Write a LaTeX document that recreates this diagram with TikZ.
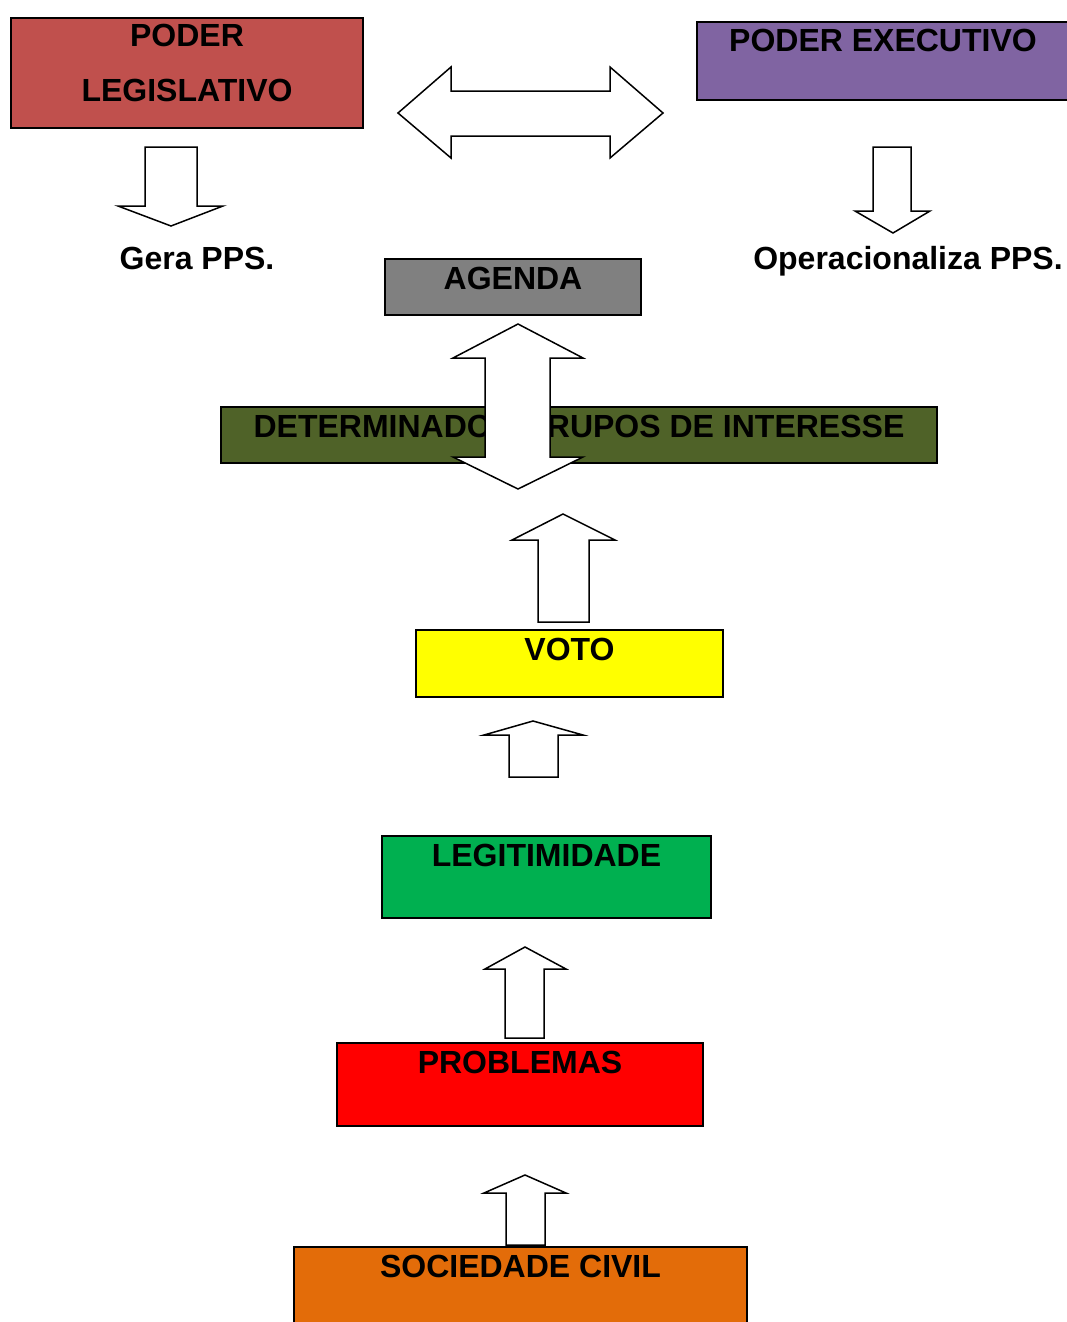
\documentclass[tikz,border=0pt]{standalone}
\usepackage{fontspec}
\setmainfont{Liberation Sans}
\usetikzlibrary{positioning}

\definecolor{legis}{HTML}{C0504D}
\definecolor{exec}{HTML}{8064A2}
\definecolor{agenda}{HTML}{808080}
\definecolor{grupos}{HTML}{4F6228}
\definecolor{voto}{HTML}{FFFF00}
\definecolor{legit}{HTML}{00B050}
\definecolor{probl}{HTML}{FF0000}
\definecolor{socied}{HTML}{E36C09}

\tikzset{
  caixa/.style={draw, line width=2pt, inner sep=0pt, anchor=north west},
  rotulo/.style={font=\bfseries\fontsize{32}{38}\selectfont, inner sep=0pt, anchor=base},
  seta/.style={draw, fill=white, line width=1.5pt, line join=miter}
}

\begin{document}
\begin{tikzpicture}[x=1pt, y=-1pt]
\useasboundingbox (0,0) rectangle (1066,1322);
% Poderes
\node[caixa, fill=legis, minimum width=352pt, minimum height=110pt] (legis) at (10,17) {};
\node[rotulo] (legis1) at ([yshift=-30pt]legis.north) {PODER};
\node[rotulo] (legis2) at ([yshift=-84pt]legis.north) {LEGISLATIVO};
\node[caixa, fill=exec, minimum width=372pt, minimum height=78pt] (exec) at (696,21) {};
\node[rotulo] (exec1) at ([yshift=-31pt]exec.north) {PODER EXECUTIVO};
% Seta dupla entre os poderes
\draw[seta] (398,113) -- (451,67) -- (451,91) -- (610,91) -- (610,67) -- (663,113)
  -- (610,158) -- (610,136) -- (451,136) -- (451,158) -- cycle;
% Gera / Operacionaliza
\draw[seta] (145,147) -- (197,147) -- (197,206) -- (223,206) -- (171,226)
  -- (118,206) -- (145,206) -- cycle;
\node[rotulo] (gera) at (197,269) {Gera PPS.};
\draw[seta] (873,147) -- (911,147) -- (911,211) -- (930,211) -- (893,233)
  -- (855,211) -- (873,211) -- cycle;
\node[rotulo] (operac) at (908,269) {Operacionaliza PPS.};
% Agenda e grupos de interesse
\node[caixa, fill=agenda, minimum width=256pt, minimum height=56pt] (agenda) at (384,258) {};
\node[rotulo] (agenda1) at ([yshift=-31pt]agenda.north) {AGENDA};
\node[caixa, fill=grupos, minimum width=716pt, minimum height=56pt] (grupos) at (220,406) {};
\node[rotulo] (grupos1) at ([yshift=-31pt]grupos.north) {DETERMINADOS GRUPOS DE INTERESSE};
\draw[seta] (518,324) -- (583,358) -- (550,358) -- (550,457) -- (583,457) -- (518,489)
  -- (453,457) -- (485,457) -- (485,358) -- (453,358) -- cycle;
% Voto
\draw[seta] (563,514) -- (615,540) -- (589,540) -- (589,622) -- (538,622) -- (538,540)
  -- (512,540) -- cycle;
\node[caixa, fill=voto, minimum width=307pt, minimum height=67pt] (voto) at (415,629) {};
\node[rotulo] (voto1) at ([yshift=-31pt]voto.north) {VOTO};
\draw[seta] (533,721) -- (583,735) -- (558,735) -- (558,777) -- (509,777) -- (509,735)
  -- (484,735) -- cycle;
% Legitimidade
\node[caixa, fill=legit, minimum width=329pt, minimum height=82pt] (legit) at (381,835) {};
\node[rotulo] (legit1) at ([yshift=-31pt]legit.north) {LEGITIMIDADE};
\draw[seta] (525,947) -- (566,969) -- (544,969) -- (544,1038) -- (505,1038) -- (505,969)
  -- (485,969) -- cycle;
% Problemas
\node[caixa, fill=probl, minimum width=366pt, minimum height=83pt] (probl) at (336,1042) {};
\node[rotulo] (probl1) at ([yshift=-31pt]probl.north) {PROBLEMAS};
\draw[seta] (525,1175) -- (566,1193) -- (545,1193) -- (545,1245) -- (506,1245) -- (506,1193)
  -- (484,1193) -- cycle;
% Sociedade civil
\node[caixa, fill=socied, minimum width=453pt, minimum height=90pt] (socied) at (293,1246) {};
\node[rotulo] (socied1) at ([yshift=-31pt]socied.north) {SOCIEDADE CIVIL};
\end{tikzpicture}
\end{document}
